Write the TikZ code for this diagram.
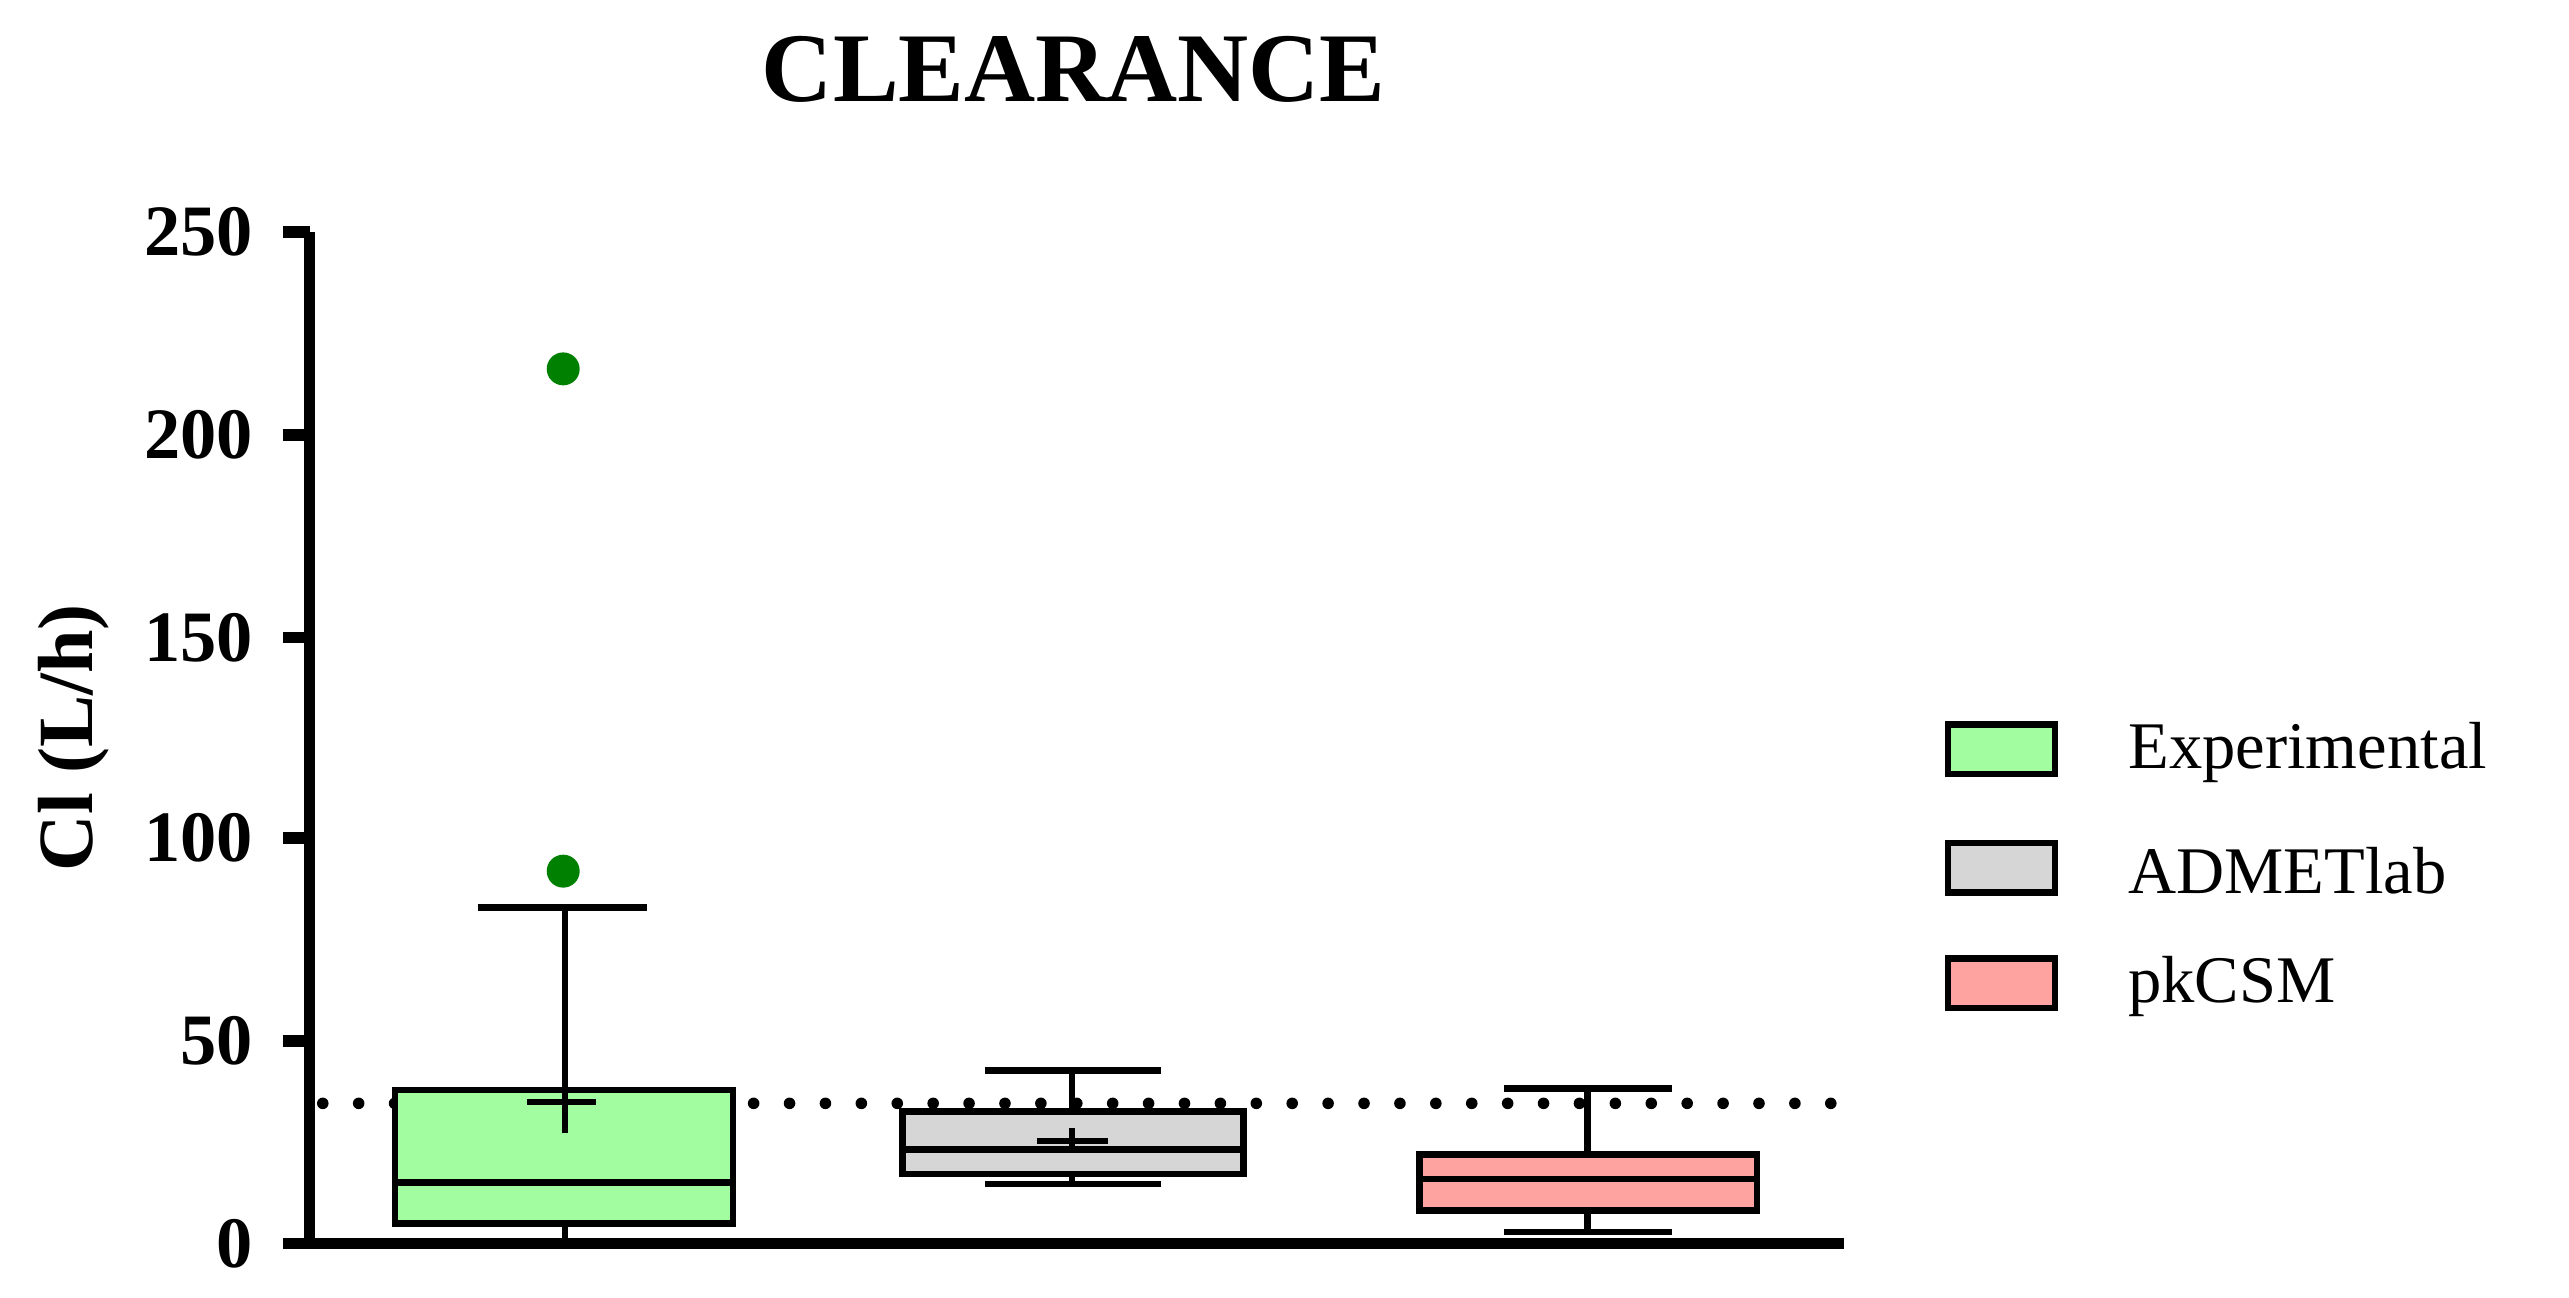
\documentclass[tikz,border=0pt]{standalone}
\usepackage{fontspec}
\setmainfont{Liberation Serif}
\begin{document}
\begin{tikzpicture}[x=0.01cm,y=-0.01cm,
  ax/.style={line width=2pt},
  ln/.style={line width=1.1pt},
  tick/.style={font=\bfseries\fontsize{12.5}{12.5}\selectfont,anchor=east},
  leg/.style={font=\fontsize{11.5}{11.5}\selectfont,anchor=west},
  dot/.style={circle,fill=green!50!black,inner sep=0pt,minimum size=0.2cm}]
\useasboundingbox (0,0) rectangle (1560,788);
\definecolor{cg}{HTML}{A2FDA0}
\definecolor{cgr}{HTML}{D6D6D6}
\definecolor{cp}{HTML}{FEA3A0}
\node[font=\bfseries\fontsize{17}{17}\selectfont] (title) at (652,42) {CLEARANCE};
\node[rotate=90,font=\bfseries\fontsize{13.5}{13.5}\selectfont] (ylab) at (45,448) {Cl (L/h)};
% dotted line
\draw[line width=2pt,dash pattern=on 0pt off 6.2pt,line cap=round] (196,670) -- (1120,670);
% axes
\draw[ax] (188,141) -- (188,755) -- (1120,755);
\foreach \v/\p in {0/755,50/632,100/509,150/387,200/264,250/141}{
  \draw[ax] (172,\p) -- (188,\p);
  \node[tick] at (166,\p) {\v};
}
% Experimental
\draw[ln] (343,743) -- (343,755);
\draw[ln,fill=cg] (240,743) rectangle (445,662);
\draw[ln] (240,718) -- (445,718);
\draw[ln] (343,662) -- (343,551) (290,551) -- (393,551);
\draw[ln] (320,669) -- (362,669) (343,688) -- (343,662);
\node[dot] (o1) at (342,224) {};
\node[dot] (o2) at (342,529) {};
% ADMETlab
\draw[ln,fill=cgr] (548,713) rectangle (755,675);
\draw[ln] (548,698) -- (755,698);
\draw[ln] (651,675) -- (651,650) (598,650) -- (705,650);
\draw[ln] (651,713) -- (651,719) (598,719) -- (705,719);
\draw[ln] (630,693) -- (673,693) (651,685) -- (651,700);
% pkCSM
\draw[ln,fill=cp] (862,735) rectangle (1067,701);
\draw[ln] (862,716) -- (1067,716);
\draw[ln] (964,701) -- (964,661) (913,661) -- (1015,661);
\draw[ln] (964,735) -- (964,748) (913,748) -- (1015,748);
% legend
\draw[ln,fill=cg] (1183,440) rectangle (1248,470);
\node[leg] at (1280,457) {Experimental};
\draw[ln,fill=cgr] (1183,512) rectangle (1248,542);
\node[leg] at (1280,529) {ADMETlab};
\draw[ln,fill=cp] (1183,582) rectangle (1248,612);
\node[leg] at (1280,599) {pkCSM};
\end{tikzpicture}
\end{document}
